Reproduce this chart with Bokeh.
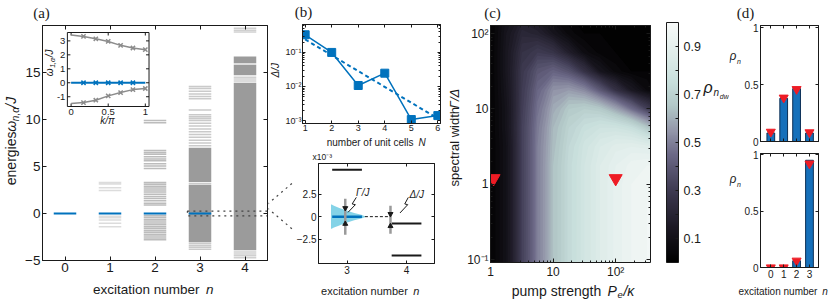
import numpy as np
from bokeh.plotting import figure
from bokeh.layouts import row, column
from bokeh.models import (Label, LinearAxis, LogAxis, FixedTicker, ColorBar, Range1d,
                          LinearColorMapper)
from bokeh.core.properties import value
from bokeh.embed import file_html
from bokeh.resources import INLINE

# ======================= DATA =======================
# (a) spectrum omega_{n,alpha}/J per excitation number n
EXC_TICKS = [0, 1, 2, 3, 4]
DARK_N = [0, 1, 2, 3]
DARK_E = [0.0, 0.0, 0.0, 0.0]
LEV1_E = [3.3, 3.15, 2.75, 2.45, -0.3, -0.45, -0.7, -1.05, -1.4]
LEV2_E = [9.9, 9.65, 6.7, 6.5, 6.3, 6.05, 5.8, 5.6, 5.3, 5.05, 4.8,
          3.3, 3.1, 2.9, 2.7, 2.5, 2.3, 2.05, 1.8, 1.6, 1.35, 1.1, 0.9,
          -0.2, -0.4, -0.6, -0.8, -1.0, -1.2, -1.4, -1.6, -1.8, -2.0, -2.2, -2.4, -2.6, -2.8]
LEV3_E = [13.5, 13.3, 13.0, 12.7, 12.45, 12.2, 11.0, 10.5, 10.3, 10.1, 9.9, 9.6, 9.3, 9.0,
          8.7, 8.4, 8.1, 7.8, 7.5, 7.2, 3.2, -3.2, -3.4, -3.6, -3.8]
LEV4_E = [19.7, 19.5, 19.3, 15.9, 14.5, 14.3, 14.1, -4.1, -4.3, -4.5, -4.7]
BAND_N = [3, 3, 4, 4, 4]
BAND_LO = [-3.05, 3.35, -3.9, 14.7, 16.0]
BAND_HI = [3.05, 7.0, 13.9, 15.8, 16.7]
ZOOM_X0, ZOOM_E = 2.72, 0.25

# (a) inset: single-particle bands vs k/pi
K_VALS = [0.0, 0.167, 0.333, 0.5, 0.667, 0.833, 1.0]
W_UP = [3.42, 3.32, 3.15, 2.96, 2.68, 2.49, 2.37]
W_LO = [-1.49, -1.42, -1.25, -0.94, -0.70, -0.49, -0.41]
W_DARK = [0.0, 0.0, 0.0, 0.0, 0.0, 0.0, 0.0]
INS_XTICKS = [0, 0.5, 1]
INS_XLABELS = ["0", "0.5", "1"]
INS_YTICKS = [-1, 0, 1, 2, 3]
INS_YLABELS = ["-1", "0", "1", "2", "3"]

# (b) top: gap vs number of unit cells
N_CELLS = [1, 2, 3, 4, 5, 6]
GAP = [0.33, 0.10, 0.0107, 0.0246, 0.00107, 0.0014]
FIT_N = [1, 6]
FIT_GAP = [0.24, 0.00115]

# (b) bottom: zoom, energies in units of 1e-3 J
ZB_DARK_N = [3]
ZB_DARK_E = [0.0]
ZB_LEV_N = [3, 4, 4]
ZB_LEV_E = [5.2, -0.75, -4.3]
LINE_E = [-1.35, -1.2, -1.0, -0.8, -0.6, -0.4, -0.2, 0.0, 0.2, 0.4, 0.6, 0.8, 1.0, 1.2, 1.35]
LINE_X = [2.74, 2.78, 2.86, 2.94, 3.03, 3.12, 3.24, 3.32, 3.24, 3.12, 3.03, 2.94, 2.86, 2.78, 2.74]
LINE_X0 = 2.73
WID_X = [2.97, 3.73]
WID_LO = [-2.0, -1.9]
WID_HI = [2.0, 1.2]
HEAD_DN_X = [2.97, 3.73]
HEAD_DN_Y = [0.95, 0.3]
HEAD_UP_X = [2.97, 3.73]
HEAD_UP_Y = [-0.8, -1.05]
LINK_X = [3.3, 3.73]
LINK_E = [0.0, 0.0]
BOLT_G_X = [3.156, 3.086, 3.14, 3.016]
BOLT_G_Y = [2.14, 1.41, 1.33, 0.48]
BOLT_D_X = [4.03, 3.97, 4.02, 3.89]
BOLT_D_Y = [2.14, 1.41, 1.33, 0.41]

# (c) occupation rho_{n_dw}: rows = log10(Gamma/Delta), cols = log10(P_e/kappa)
HEAT_LOGP = [0.0, 0.25, 0.5, 0.75, 1.0, 1.25, 1.5, 1.75, 2.0, 2.25, 2.5, 2.6]
HEAT_LOGG = [-1.1, -1.0, -0.75, -0.5, -0.25, 0.0, 0.25, 0.5, 0.75, 1.0, 1.25, 1.5, 1.75, 2.0, 2.25]
BASE_ROW = [0.02, 0.10, 0.32, 0.50, 0.64, 0.73, 0.80, 0.86, 0.91, 0.94, 0.96, 0.965]
HEAT = [
    BASE_ROW, BASE_ROW, BASE_ROW, BASE_ROW, BASE_ROW,
    [0.02, 0.10, 0.32, 0.50, 0.64, 0.73, 0.80, 0.86, 0.91, 0.94, 0.95, 0.955],
    [0.02, 0.10, 0.32, 0.50, 0.64, 0.73, 0.80, 0.86, 0.90, 0.93, 0.94, 0.94],
    [0.02, 0.10, 0.32, 0.50, 0.63, 0.72, 0.79, 0.84, 0.87, 0.88, 0.87, 0.86],
    [0.02, 0.11, 0.32, 0.49, 0.62, 0.70, 0.75, 0.78, 0.78, 0.75, 0.66, 0.62],
    [0.02, 0.11, 0.31, 0.47, 0.59, 0.66, 0.68, 0.66, 0.58, 0.46, 0.32, 0.27],
    [0.02, 0.12, 0.30, 0.44, 0.54, 0.56, 0.52, 0.40, 0.26, 0.14, 0.06, 0.04],
    [0.02, 0.13, 0.29, 0.39, 0.43, 0.38, 0.26, 0.12, 0.05, 0.02, 0.02, 0.02],
    [0.02, 0.13, 0.26, 0.30, 0.27, 0.17, 0.07, 0.03, 0.02, 0.02, 0.02, 0.02],
    [0.02, 0.12, 0.21, 0.19, 0.12, 0.05, 0.02, 0.02, 0.02, 0.02, 0.02, 0.02],
    [0.02, 0.10, 0.15, 0.11, 0.05, 0.02, 0.02, 0.02, 0.02, 0.02, 0.02, 0.02],
]
MARK_P = [1.12, 100.0]
MARK_G = [1.2, 1.2]
CB_TICKS = [0.1, 0.2, 0.3, 0.4, 0.5, 0.6, 0.7, 0.8, 0.9]

# (d) photon-number distributions
D_N = [0, 1, 2, 3]
RHO_A = [0.075, 0.38, 0.465, 0.075]
RHO_A_MARK = [0.085, 0.385, 0.46, 0.08]
RHO_B = [0.004, 0.004, 0.06, 0.95]
RHO_B_MARK = [0.0, 0.0, 0.06, 0.92]

# ======================= STYLE =======================
SANS = "Liberation Sans"
SERIF = "Liberation Serif"
INK = "#1a1a1a"
BLUE = "#0072BD"
RED = "#EE1C25"
HALF = 0.25
MID = 0.35          # em fraction between alphabetic baseline and text middle
CMAP_POS = [0.0, 0.15, 0.3, 0.45, 0.55, 0.65, 0.75, 0.85, 1.0]
CMAP_HEX = ["#000000", "#1d1a25", "#3e3a51", "#6c6987", "#9497aa", "#b2c7c7",
            "#c8dfdc", "#dcebe8", "#f8faf9"]


def sample_cmap(t):
    rgb = np.array([[int(h[i:i + 2], 16) for i in (1, 3, 5)] for h in CMAP_HEX], float)
    cols = np.stack([np.interp(t, CMAP_POS, rgb[:, j]) for j in range(3)], axis=1)
    return ["#%02x%02x%02x" % tuple(int(round(c)) for c in r) for r in cols]


CW = {' ': 278, 'a': 556, 'b': 556, 'c': 500, 'd': 556, 'e': 556, 'f': 278, 'g': 556, 'h': 556,
      'i': 222, 'k': 500, 'l': 222, 'm': 833, 'n': 556, 'o': 556, 'p': 556, 'r': 333, 's': 500,
      't': 278, 'u': 556, 'w': 722, 'x': 500, 'N': 722, 'P': 667, 'J': 500, '/': 278, ',': 278,
      '1': 556, 'ω': 780, 'α': 580, 'ρ': 580, 'Γ': 560, 'Δ': 670, 'κ': 520, 'π': 600}


def tw(s, fs):
    return sum(CW.get(c, 556) for c in s) * fs / 1000.0 * 1.02 + 0.5


def strip(x0, y0, w, h):
    """A text-only canvas whose data coordinates are page pixels."""
    p = figure(width=w, height=h, x_range=Range1d(x0, x0 + w), y_range=Range1d(y0 + h, y0),
               output_backend="svg", toolbar_location=None, min_border=0,
               x_axis_location=None, y_axis_location=None, outline_line_color=None,
               background_fill_color=None, border_fill_color=None)
    p.grid.visible = False
    return p


def stext(p, x, y, text, size, font=SANS, style="normal", align="center",
          baseline="middle", angle=0.0):
    p.text(x=[x], y=[y], text=[text], angle=angle, text_font=value(font),
           text_font_size=value(f"{size}px"), text_font_style=value(style),
           text_align=value(align), text_baseline=value(baseline), text_color=INK)


def pieces(x, y, parts, rotate):
    """Yield (x, y, angle, text, size, italic) for a run of text sharing one baseline."""
    total = sum(tw(t, fs) for t, fs, it, dy in parts)
    pos = -total / 2
    for t, fs, it, dy in parts:
        m = MID * fs
        if rotate:
            yield x + dy - m, y - pos, np.pi / 2, t, fs, it
        else:
            yield x + pos, y + dy - m, 0.0, t, fs, it
        pos += tw(t, fs)


def srich(p, x, y, parts, rotate=False):
    for lx, ly, ang, t, fs, it in pieces(x, y, parts, rotate):
        stext(p, lx, ly, t, fs, style="italic" if it else "normal", align="left",
              baseline="middle", angle=ang)


def lrich(p, o, px, py, parts, rotate=False):
    """Rich text as Labels inside a plot frame (canvas units)."""
    for lx, ly, ang, t, fs, it in pieces(px, py, parts, rotate):
        p.add_layout(Label(x=lx - o[0], y=ly - o[1], x_units="canvas", y_units="canvas",
                           text=t, text_font=SANS, text_font_size=f"{fs}px",
                           text_font_style="italic" if it else "normal", text_align="left",
                           text_baseline="middle", angle=ang, text_color=INK))


def base_fig(w, h, mb, xr, yr, xlog=False, ylog=False):
    l, r, t, b = mb
    p = figure(width=w, height=h, x_range=xr, y_range=yr,
               x_axis_type="log" if xlog else "linear",
               y_axis_type="log" if ylog else "linear",
               output_backend="svg", toolbar_location=None,
               min_border_left=l, min_border_right=r, min_border_top=t, min_border_bottom=b,
               background_fill_color=None, border_fill_color=None,
               outline_line_color=INK, outline_line_width=1)
    p.grid.visible = False
    return p


def common(ax, fs, labels, tick=4, standoff=2):
    ax.axis_line_color = INK
    ax.axis_line_width = 1
    ax.major_tick_in = tick
    ax.major_tick_out = 0
    ax.minor_tick_in = 2
    ax.minor_tick_out = 0
    ax.major_tick_line_color = INK
    ax.minor_tick_line_color = INK
    ax.major_label_text_font = SANS
    ax.axis_label = None
    if labels:
        ax.major_label_text_color = INK
        ax.major_label_standoff = standoff
        ax.major_label_text_font_size = f"{fs}px"
    else:
        ax.major_label_text_color = None
        ax.major_label_standoff = 0
        ax.major_label_text_font_size = "1px"


def style_axes(p, xticks, yticks, fs, xlabels=True, ylabels=True, xminor=(), yminor=(),
               xover=None, yover=None, xlog=False, ylog=False, tick=4, standoff=2):
    xt = FixedTicker(ticks=list(xticks), minor_ticks=list(xminor))
    yt = FixedTicker(ticks=list(yticks), minor_ticks=list(yminor))
    p.xaxis[0].ticker = xt
    p.yaxis[0].ticker = yt
    common(p.xaxis[0], fs, xlabels, tick, standoff)
    common(p.yaxis[0], fs, ylabels, tick, standoff)
    if xover:
        p.xaxis[0].major_label_overrides = xover
    if yover:
        p.yaxis[0].major_label_overrides = yover
    top = (LogAxis if xlog else LinearAxis)(ticker=xt)
    right = (LogAxis if ylog else LinearAxis)(ticker=yt)
    common(top, fs, False, tick)
    common(right, fs, False, tick)
    p.add_layout(top, "above")
    p.add_layout(right, "right")


# ======================= (a) =======================
A_X, A_Y = (-0.5, 4.5), (-5, 20)
OA = (22, 22)                      # canvas origin of panel (a) on the page
A_MB = (19, 1, 3, 22)
A_FW, A_FH = 226, 235
sa_top = strip(0, 0, 268, 22)
sa_left = strip(0, 22, 22, 260)
sa_bot = strip(0, 282, 268, 22)
fa = base_fig(246, 260, A_MB, A_X, A_Y)
style_axes(fa, EXC_TICKS, [-5, 0, 5, 10, 15], 13.5)
fa.quad(left=[n - HALF for n in BAND_N], right=[n + HALF for n in BAND_N],
        bottom=BAND_LO, top=BAND_HI, fill_color="#9b9b9b", line_color=None)
for n, levs, col, al in ((1, LEV1_E, "#8a8a8a", 0.3), (2, LEV2_E, "#7a7a7a", 0.5),
                         (3, LEV3_E, "#8a8a8a", 0.45), (4, LEV4_E, "#8a8a8a", 0.4)):
    fa.segment(x0=[n - HALF] * len(levs), x1=[n + HALF] * len(levs), y0=levs, y1=levs,
               line_color=col, line_alpha=al, line_width=1.5)
fa.segment(x0=[n - HALF for n in DARK_N], x1=[n + HALF for n in DARK_N], y0=DARK_E, y1=DARK_E,
           line_color=BLUE, line_width=2.2)
fa.quad(left=[ZOOM_X0], right=[A_X[1]], bottom=[-ZOOM_E], top=[ZOOM_E], fill_alpha=0,
        line_color="#444444", line_dash="dotted", line_width=1.2)
stext(sa_top, 41, 12, "(a)", 15, font=SERIF)
srich(sa_left, 15.5, 150, [("energies ", 14, False, 0), ("ω", 14, True, 0),
                           ("n,α", 10, True, 3), ("/J", 14, True, 0)], rotate=True)
srich(sa_bot, 153, 294, [("excitation number ", 13.5, False, 0), ("n", 13.5, True, 0)])

# inset as a sub-coordinate system of (a)
INS_XR, INS_YR = (-0.05, 1.05), (-1.7, 3.6)
INS_BOX = (66, 148, 32, 106)  # page px: left, right, top, bottom


def a_x(px):
    return A_X[0] + (px - OA[0] - A_MB[0]) * (A_X[1] - A_X[0]) / A_FW


def a_y(py):
    return A_Y[1] - (py - OA[1] - A_MB[2]) * (A_Y[1] - A_Y[0]) / A_FH


ins = fa.subplot(x_source=Range1d(*INS_XR), y_source=Range1d(*INS_YR),
                 x_target=Range1d(a_x(INS_BOX[0]), a_x(INS_BOX[1])),
                 y_target=Range1d(a_y(INS_BOX[3]), a_y(INS_BOX[2])))
tx = 3 * (INS_YR[1] - INS_YR[0]) / (INS_BOX[3] - INS_BOX[2])
ty = 3 * (INS_XR[1] - INS_XR[0]) / (INS_BOX[1] - INS_BOX[0])
ins.quad(left=[INS_XR[0]], right=[INS_XR[1]], bottom=[INS_YR[0]], top=[INS_YR[1]],
         fill_color="white", line_color=INK, line_width=1)
nx, ny = len(INS_XTICKS), len(INS_YTICKS)
ins.segment(x0=INS_XTICKS, x1=INS_XTICKS, y0=[INS_YR[0]] * nx, y1=[INS_YR[0] + tx] * nx, line_color=INK)
ins.segment(x0=INS_XTICKS, x1=INS_XTICKS, y0=[INS_YR[1]] * nx, y1=[INS_YR[1] - tx] * nx, line_color=INK)
ins.segment(x0=[INS_XR[0]] * ny, x1=[INS_XR[0] + ty] * ny, y0=INS_YTICKS, y1=INS_YTICKS, line_color=INK)
ins.segment(x0=[INS_XR[1]] * ny, x1=[INS_XR[1] - ty] * ny, y0=INS_YTICKS, y1=INS_YTICKS, line_color=INK)
ins.text(x=INS_XTICKS, y=[INS_YR[0]] * nx, text=INS_XLABELS, y_offset=2, text_align="center",
         text_baseline="top", text_font=value(SANS), text_font_size="9.5px", text_color=INK)
ins.text(x=[INS_XR[0]] * ny, y=INS_YTICKS, text=INS_YLABELS, x_offset=-2, text_align="right",
         text_baseline="middle", text_font=value(SANS), text_font_size="9.5px", text_color=INK)
for ys in (W_UP, W_LO):
    ins.line(K_VALS, ys, line_color="#8c8c8c", line_width=1.5)
    ins.scatter(K_VALS[1:], ys[1:], marker="x", size=6, line_color="#8c8c8c", line_width=1.5)
ins.line(K_VALS, W_DARK, line_color=BLUE, line_width=2)
ins.scatter(K_VALS[1:-1], W_DARK[1:-1], marker="x", size=6, line_color=BLUE, line_width=1.5)
lrich(fa, OA, 52, 62, [("ω", 10, True, 0), ("1,α", 7, True, 2), ("/J", 10, True, 0)], rotate=True)
lrich(fa, OA, 107, 123, [("k/π", 10, True, 0)])

# ======================= (b) =======================
sb_top = strip(268, 0, 178, 20)
sb1_left = strip(268, 20, 14, 115)
sb1_bot = strip(268, 135, 178, 15)
sb2_top = strip(268, 150, 178, 11)
sb2_left = strip(268, 161, 25, 122)
sb2_bot = strip(268, 283, 178, 21)

fb1 = base_fig(164, 115, (19, 6, 4, 12), (0.9, 6.1), (0.00082, 0.66), ylog=True)
ymin = [m * 10.0 ** e for e in (-3, -2, -1) for m in range(2, 10) if m * 10.0 ** e < 0.66]
style_axes(fb1, N_CELLS, [0.001, 0.01, 0.1], 9, yminor=ymin, ylog=True,
           yover={0.1: "10⁻¹", 0.01: "10⁻²", 0.001: "10⁻³"}, tick=3, standoff=1)
fb1.line(FIT_N, FIT_GAP, line_color=BLUE, line_width=2, line_dash="4 3")
fb1.line(N_CELLS, GAP, line_color=BLUE, line_width=1.5)
fb1.scatter(N_CELLS, GAP, marker="square", size=8, color=BLUE)
stext(sb_top, 303, 11, "(b)", 15, font=SERIF)
srich(sb1_left, 278, 74, [("Δ/J", 10, True, 0)], rotate=True)
srich(sb1_bot, 376, 145.5, [("number of unit cells ", 10, False, 0), ("N", 10, True, 0)])

fb2 = base_fig(153, 122, (20, 12, 2, 20), (2.52, 4.47), (-5.2, 5.9))
style_axes(fb2, [3, 4], [-2.5, 0, 2.5], 10, tick=3)
fb2.patch([LINE_X0] + LINE_X + [LINE_X0], [LINE_E[0]] + LINE_E + [LINE_E[-1]],
          fill_color="#6ecbe3", fill_alpha=0.85, line_color=None)
fb2.segment(x0=[n - HALF for n in ZB_LEV_N], x1=[n + HALF for n in ZB_LEV_N],
            y0=ZB_LEV_E, y1=ZB_LEV_E, line_color=INK, line_width=2)
fb2.segment(x0=[n - HALF for n in ZB_DARK_N], x1=[n + HALF for n in ZB_DARK_N],
            y0=ZB_DARK_E, y1=ZB_DARK_E, line_color=BLUE, line_width=2.5)
fb2.segment(x0=WID_X, x1=WID_X, y0=WID_LO, y1=WID_HI, line_color="#9a9a9a", line_width=2.5)
fb2.line(LINK_X, LINK_E, line_color=INK, line_dash="3 2", line_width=1)
fb2.scatter(HEAD_DN_X, HEAD_DN_Y, marker="inverted_triangle", size=5, color=INK)
fb2.scatter(HEAD_UP_X, HEAD_UP_Y, marker="triangle", size=5, color=INK)
fb2.line(BOLT_G_X, BOLT_G_Y, line_color=INK, line_width=1)
fb2.line(BOLT_D_X, BOLT_D_Y, line_color=INK, line_width=1)
fb2.add_layout(Label(x=3.15, y=2.7, text="Γ/J", text_font=SANS, text_font_size="10px",
                     text_font_style="italic", text_baseline="middle", text_color=INK))
fb2.add_layout(Label(x=4.05, y=2.45, text="Δ/J", text_font=SANS, text_font_size="10px",
                     text_font_style="italic", text_baseline="middle", text_color=INK))
stext(sb2_top, 312, 155.5, "x10⁻³", 8.5, align="left", baseline="middle")
srich(sb2_bot, 370, 294, [("excitation number ", 11, False, 0), ("n", 11, True, 0)])
# dotted connectors: zoom box in (a) -> corners of this frame
a_scale = A_FH / (A_Y[1] - A_Y[0])
a_top_px = OA[1] + A_MB[2]
a_right_px = OA[0] + A_MB[0] + A_FW
ya_top = a_top_px + (A_Y[1] - ZOOM_E) * a_scale
ya_bot = a_top_px + (A_Y[1] + ZOOM_E) * a_scale
b2_left_px, b2_top_px, b2_bot_px = 313, 163, 263
for ya, yb in ((ya_top, b2_top_px), (ya_bot, b2_bot_px)):
    sb2_left.line([a_right_px, b2_left_px], [ya, yb], line_color="#444444",
                  line_dash="dotted", line_width=1.2)

# ======================= (c) =======================
sc_top = strip(446, 0, 283, 22)
sc_left = strip(446, 22, 17, 259)
sc_right = strip(701, 22, 28, 259)
sc_bot = strip(446, 281, 283, 23)
fc = base_fig(238, 259, (27, 51, 3, 16), (1.0, 360), (0.092, 128), xlog=True, ylog=True)
xmin = [m * 10.0 ** e for e in (0, 1, 2) for m in range(2, 10) if m * 10.0 ** e < 360]
ymin2 = [m * 10.0 ** e for e in (-1, 0, 1) for m in range(2, 10)]
style_axes(fc, [1, 10, 100], [0.1, 1, 10, 100], 12, xminor=xmin, yminor=ymin2,
           xlog=True, ylog=True, xover={1: "1", 10: "10", 100: "10²"},
           yover={0.1: "10⁻¹", 1: "1", 10: "10", 100: "10²"})
PP, GG = np.meshgrid(10.0 ** np.array(HEAT_LOGP), 10.0 ** np.array(HEAT_LOGG))
levels = np.linspace(0, 1, 51)
band_cols = sample_cmap((levels[:-1] + levels[1:]) / 2)
# stacked "z >= level" regions, drawn from low to high so no seams show through
for lv, colr in zip(levels[:-1], band_cols):
    fc.contour(x=PP, y=GG, z=np.array(HEAT), levels=[lv, 1.0], fill_color=[colr],
               line_color=None)
fc.scatter(MARK_P, MARK_G, marker="inverted_triangle", size=13, color=RED)
mapper = LinearColorMapper(palette=sample_cmap(np.linspace(0, 1, 256)), low=0, high=1)
cb = ColorBar(color_mapper=mapper, width=12, height=240, location=(176, 0), margin=0, padding=0,
              ticker=FixedTicker(ticks=CB_TICKS),
              major_label_overrides={0.2: "", 0.4: "", 0.6: "", 0.8: ""},
              major_label_text_font=SANS, major_label_text_font_size="12.5px",
              major_label_text_color=INK, label_standoff=5,
              major_tick_in=3, major_tick_out=0, major_tick_line_color=INK,
              bar_line_color=INK, background_fill_color=None)
fc.add_layout(cb, "center")
stext(sc_top, 492, 12, "(c)", 15, font=SERIF)
srich(sc_left, 459, 145, [("spectral width ", 13, False, 0), ("Γ/Δ", 13, True, 0)], rotate=True)
srich(sc_bot, 573, 295, [("pump strength ", 14, False, 0), ("P", 14, True, 0),
                         ("e", 9.5, True, 3), ("/κ", 14, True, 0)])
srich(sc_right, 716, 95, [("ρ", 16, True, 0), ("n", 10, True, 4), ("dw", 7, True, 7)])

# ======================= (d) =======================
sd_top = strip(729, 0, 101, 22)
sd_left = strip(729, 22, 12, 259)
sd_bot = strip(729, 281, 101, 23)
fd1 = base_fig(89, 125, (17, 12, 3, 6), (-0.8, 3.7), (0, 1.02))
style_axes(fd1, D_N, [0, 0.5, 1], 10, xlabels=False, yover={0: "0", 0.5: "0.5", 1: "1"}, tick=3)
fd1.vbar(x=D_N, top=RHO_A, width=0.6, fill_color="#1670BA", line_color="#0b2f55", line_width=1)
fd1.scatter(D_N, RHO_A_MARK, marker="inverted_triangle", size=9, color=RED)
fd2 = base_fig(89, 134, (17, 12, 6, 14), (-0.8, 3.7), (0, 1.01))
style_axes(fd2, D_N, [0, 0.5, 1], 10, yover={0: "0", 0.5: "0.5", 1: "1"}, tick=3)
fd2.vbar(x=D_N, top=RHO_B, width=0.6, fill_color="#1670BA", line_color="#0b2f55", line_width=1)
fd2.scatter(D_N, RHO_B_MARK, marker="inverted_triangle", size=9, color=RED)
stext(sd_top, 745, 12, "(d)", 15, font=SERIF)
srich(sd_left, 735, 60, [("ρ", 12, True, 0), ("n", 7, True, 3)])
srich(sd_left, 735, 183, [("ρ", 12, True, 0), ("n", 7, True, 3)])
srich(sd_bot, 783, 294, [("excitation number ", 10, False, 0), ("n", 10, True, 0)])

# ======================= PAGE =======================
blk_a = column(sa_top, row(sa_left, fa), sa_bot)
blk_b = column(sb_top, row(sb1_left, fb1), sb1_bot, sb2_top, row(sb2_left, fb2), sb2_bot)
blk_c = column(sc_top, row(sc_left, fc, sc_right), sc_bot)
blk_d = column(sd_top, row(sd_left, column(fd1, fd2)), sd_bot)
page = row(blk_a, blk_b, blk_c, blk_d)
open("out.html", "w").write(file_html(page, INLINE))
